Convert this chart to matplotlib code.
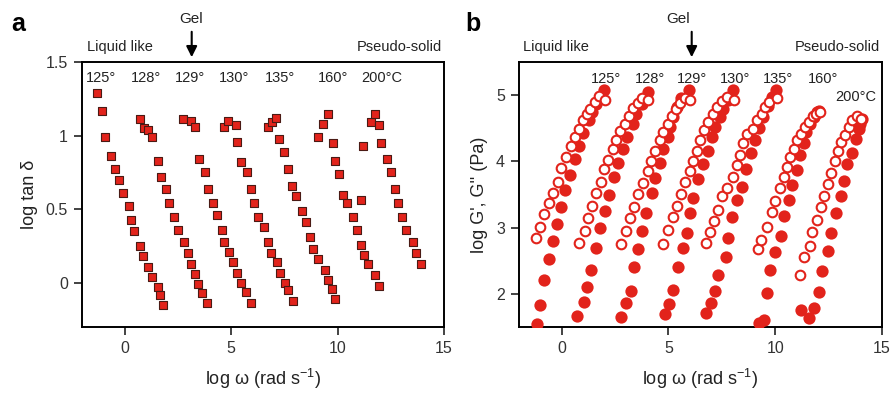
import matplotlib
matplotlib.use("Agg")
import matplotlib.pyplot as plt

plt.rcParams['font.family'] = ['Liberation Sans', 'DejaVu Sans']
plt.rcParams['mathtext.default'] = 'regular'

RED = '#e2231b'

temps = ['125°', '128°', '129°', '130°', '135°', '160°', '200°C']

# panel a: log tan delta vs log omega
tan_x = [
    [-1.28, -1.08, -0.92, -0.62, -0.47, -0.25, -0.09, 0.21, 0.28, 0.44, 0.74, 0.88, 1.10, 1.27, 1.55, 1.65, 1.82],
    [0.72, 0.89, 1.10, 1.27, 1.55, 1.72, 1.94, 2.10, 2.32, 2.49, 2.77, 2.98, 3.12, 3.29, 3.45, 3.65, 3.89],
    [2.74, 3.10, 3.31, 3.48, 3.76, 3.91, 4.14, 4.32, 4.56, 4.69, 4.92, 5.11, 5.30, 5.48, 5.70, 5.94],
    [4.67, 4.87, 5.23, 5.28, 5.47, 5.75, 5.92, 6.10, 6.28, 6.56, 6.72, 6.89, 7.16, 7.30, 7.52, 7.68, 7.91],
    [6.72, 6.93, 7.10, 7.24, 7.50, 7.68, 7.88, 8.07, 8.34, 8.54, 8.71, 8.87, 9.07, 9.43, 9.56, 9.73, 9.90],
    [9.06, 9.34, 9.54, 9.77, 9.87, 10.09, 10.24, 10.45, 10.71, 10.90, 11.08, 11.26, 11.45, 11.77, 11.94],
    [11.08, 11.18, 11.58, 11.77, 11.94, 12.02, 12.30, 12.49, 12.69, 12.85, 13.05, 13.22, 13.53, 13.69, 13.90],
]
tan_y = [
    [1.29, 1.17, 0.99, 0.86, 0.77, 0.70, 0.61, 0.52, 0.43, 0.35, 0.25, 0.18, 0.11, 0.04, -0.03, -0.08, -0.15],
    [1.11, 1.05, 1.04, 0.99, 0.83, 0.72, 0.64, 0.54, 0.45, 0.36, 0.28, 0.20, 0.13, 0.06, -0.01, -0.07, -0.14],
    [1.11, 1.10, 1.06, 0.84, 0.75, 0.64, 0.54, 0.46, 0.36, 0.28, 0.21, 0.14, 0.07, 0.00, -0.06, -0.14],
    [1.06, 1.10, 1.07, 0.96, 0.82, 0.75, 0.64, 0.54, 0.45, 0.38, 0.28, 0.20, 0.14, 0.07, 0.00, -0.05, -0.12],
    [1.06, 1.09, 1.12, 0.98, 0.89, 0.77, 0.66, 0.59, 0.49, 0.41, 0.31, 0.23, 0.16, 0.09, 0.02, -0.04, -0.11],
    [0.99, 1.08, 1.15, 0.95, 0.83, 0.74, 0.60, 0.54, 0.45, 0.36, 0.26, 0.19, 0.13, 0.05, -0.02],
    [0.56, 0.93, 1.09, 1.15, 1.07, 0.95, 0.84, 0.75, 0.64, 0.54, 0.45, 0.36, 0.28, 0.20, 0.13],
]

# panel b: G' (filled) and G'' (open)
gp_x = [
    [-1.16, -1.02, -0.81, -0.58, -0.41, -0.22, -0.03, 0.17, 0.39, 0.60, 0.82, 1.02, 1.26, 1.44, 1.60, 1.81, 1.98],
    [0.71, 1.03, 1.19, 1.38, 1.62, 1.80, 2.01, 2.20, 2.46, 2.62, 2.85, 3.06, 3.34, 3.50, 3.78, 3.89, 4.04],
    [2.79, 2.99, 3.26, 3.39, 3.55, 3.76, 3.97, 4.25, 4.36, 4.59, 4.75, 4.99, 5.09, 5.22, 5.38, 5.60, 5.97],
    [4.83, 5.02, 5.22, 5.46, 5.66, 5.85, 6.00, 6.16, 6.40, 6.63, 6.87, 7.02, 7.18, 7.42, 7.57, 7.81, 8.04],
    [6.76, 6.99, 7.18, 7.34, 7.68, 7.78, 7.99, 8.20, 8.43, 8.65, 8.85, 9.05, 9.25, 9.45, 9.65, 9.85, 10.02],
    [9.22, 9.48, 9.61, 9.77, 10.00, 10.27, 10.39, 10.63, 10.77, 11.02, 11.14, 11.33, 11.45, 11.65, 11.80, 11.96, 12.05],
    [11.23, 11.57, 11.80, 12.07, 12.20, 12.48, 12.59, 12.86, 13.06, 13.21, 13.37, 13.60, 13.76, 13.92, 13.97, 14.03, 14.08],
]
gp_y = [
    [1.55, 1.83, 2.21, 2.52, 2.80, 3.06, 3.31, 3.57, 3.80, 4.03, 4.23, 4.43, 4.62, 4.74, 4.86, 4.97, 5.07],
    [1.66, 1.87, 2.10, 2.36, 2.69, 2.99, 3.25, 3.49, 3.77, 3.97, 4.19, 4.37, 4.57, 4.72, 4.87, 4.95, 5.05],
    [1.65, 1.86, 2.05, 2.40, 2.67, 2.95, 3.22, 3.52, 3.75, 3.97, 4.19, 4.37, 4.52, 4.67, 4.82, 4.95, 5.07],
    [1.69, 1.84, 2.06, 2.40, 2.69, 2.92, 3.22, 3.45, 3.74, 3.96, 4.16, 4.37, 4.52, 4.67, 4.79, 4.92, 5.07],
    [1.71, 1.86, 2.05, 2.29, 2.56, 2.84, 3.16, 3.41, 3.62, 3.88, 4.12, 4.32, 4.50, 4.67, 4.84, 4.97, 5.07],
    [1.56, 1.61, 2.01, 2.36, 2.63, 2.87, 3.17, 3.41, 3.65, 3.87, 4.09, 4.27, 4.44, 4.57, 4.67, 4.74, 4.76],
    [1.76, 1.63, 1.78, 2.03, 2.34, 2.65, 2.92, 3.22, 3.48, 3.70, 3.96, 4.12, 4.34, 4.49, 4.56, 4.62, 4.64],
]
gpp_x = [
    [-1.19, -1.02, -0.81, -0.58, -0.41, -0.19, -0.03, 0.19, 0.42, 0.63, 0.83, 0.99, 1.18, 1.34, 1.54, 1.73, 2.03],
    [0.83, 1.07, 1.22, 1.43, 1.62, 1.82, 1.96, 2.16, 2.38, 2.56, 2.71, 2.95, 3.14, 3.35, 3.55, 3.78, 4.02],
    [2.79, 2.99, 3.18, 3.39, 3.58, 3.83, 4.05, 4.20, 4.36, 4.59, 4.75, 4.97, 5.15, 5.35, 5.55, 5.78, 6.02],
    [4.76, 4.99, 5.19, 5.38, 5.61, 5.77, 6.00, 6.16, 6.32, 6.47, 6.66, 6.87, 7.10, 7.29, 7.49, 7.73, 8.05],
    [6.76, 6.94, 7.12, 7.34, 7.52, 7.75, 8.04, 8.20, 8.36, 8.51, 8.67, 8.98, 9.14, 9.37, 9.53, 9.69, 10.08],
    [9.19, 9.35, 9.61, 9.85, 9.97, 10.24, 10.39, 10.55, 10.71, 10.86, 11.04, 11.20, 11.41, 11.58, 11.76, 11.92, 12.08],
    [11.18, 11.33, 11.62, 11.73, 11.96, 12.12, 12.30, 12.46, 12.59, 12.82, 12.95, 13.06, 13.25, 13.45, 13.60, 13.84, 14.00],
]
gpp_y = [
    [2.84, 3.01, 3.20, 3.37, 3.52, 3.69, 3.90, 4.06, 4.23, 4.37, 4.49, 4.62, 4.72, 4.79, 4.89, 4.98, 4.93],
    [2.77, 2.95, 3.14, 3.32, 3.53, 3.69, 3.88, 4.02, 4.18, 4.32, 4.46, 4.57, 4.69, 4.80, 4.88, 4.95, 4.93],
    [2.75, 2.95, 3.15, 3.31, 3.51, 3.67, 3.86, 4.01, 4.16, 4.32, 4.45, 4.57, 4.68, 4.79, 4.88, 4.95, 4.93],
    [2.75, 2.96, 3.16, 3.33, 3.51, 3.69, 3.86, 4.01, 4.16, 4.32, 4.47, 4.59, 4.72, 4.82, 4.91, 4.97, 4.93],
    [2.77, 2.93, 3.10, 3.27, 3.47, 3.60, 3.76, 3.94, 4.09, 4.27, 4.42, 4.49, 4.62, 4.72, 4.82, 4.90, 4.95],
    [2.67, 2.81, 3.01, 3.23, 3.40, 3.60, 3.76, 3.91, 4.06, 4.19, 4.32, 4.42, 4.52, 4.60, 4.68, 4.72, 4.74],
    [2.28, 2.55, 2.73, 2.93, 3.12, 3.31, 3.48, 3.66, 3.82, 4.01, 4.15, 4.29, 4.40, 4.52, 4.62, 4.69, 4.64],
]

# temperature label positions (left edge, data coords)
a_lab_x = [-1.80, 0.31, 2.38, 4.45, 6.61, 9.10, 11.10]
b_lab_x = [1.38, 3.45, 5.39, 7.40, 9.43, 11.54, 12.82]

fig = plt.figure(figsize=(8.91, 3.94), dpi=100)
ax1 = fig.add_axes([82/891, 1-327/394, 362/891, 265/394])
ax2 = fig.add_axes([519/891, 1-327/394, 363/891, 265/394])

for ax in (ax1, ax2):
    for s in ax.spines.values():
        s.set_linewidth(1.4)
    ax.tick_params(direction='out', length=6, width=1.2, labelsize=11.5, pad=4,
                   colors='#222222', labelcolor='#333333')
    ax.set_xlim(-2, 15)
    ax.set_xticks([0, 5, 10, 15])
    ax.set_xlabel('log ω (rad s$^{-1}$)', fontsize=13, labelpad=8, color='#222222')

# panel a
for xs, ys in zip(tan_x, tan_y):
    ax1.scatter(xs, ys, marker='s', s=36, facecolor=RED, edgecolor='#4a1a14',
                linewidths=0.8, zorder=3)
ax1.set_ylim(-0.3, 1.5)
ax1.set_yticks([0, 0.5, 1, 1.5])
ax1.set_yticklabels(['0', '0.5', '1', '1.5'])
ax1.set_ylabel('log tan δ', fontsize=13, labelpad=6, color='#222222')
for t, lx in zip(temps, a_lab_x):
    ax1.text(lx, 1.39, t, fontsize=10.5, va='center', ha='left', color='#222222')

# panel b
for i in range(len(temps)):
    ax2.scatter(gp_x[i], gp_y[i], s=78, color=RED, linewidths=0, zorder=3)
    ax2.scatter(gpp_x[i], gpp_y[i], s=48, facecolor='white', edgecolor=RED,
                linewidths=1.5, zorder=4)
ax2.set_ylim(1.5, 5.5)
ax2.set_yticks([2, 3, 4, 5])
ax2.set_ylabel("log G', G'' (Pa)", fontsize=13, labelpad=6, color='#222222')
for t, lx in zip(temps, b_lab_x):
    ly = 4.97 if t.endswith('C') else 5.25
    ax2.text(lx, ly, t, fontsize=10.5, va='center', ha='left', color='#222222')

# headings above the boxes
for ax, x0, x1 in ((ax1, 0.014, 0.994), (ax2, 0.011, 0.995)):
    ax.text(x0, 1.03, 'Liquid like', transform=ax.transAxes, fontsize=10.5,
            ha='left', va='bottom', color='#222222')
    ax.text(x1, 1.03, 'Pseudo-solid', transform=ax.transAxes, fontsize=10.5,
            ha='right', va='bottom', color='#222222')

for gx, ax_x in ((191.5, 191.7), (678, 691.7)):
    fig.text(gx/891, 1-19/394, 'Gel', fontsize=11, ha='center', va='center',
             color='#222222')
    fig.add_artist(matplotlib.patches.FancyArrowPatch(
        (ax_x/891, 1-29/394), (ax_x/891, 1-60/394), transform=fig.transFigure,
        arrowstyle='-|>', mutation_scale=16, color='black', lw=1.5))

fig.text(18/891, 1-24/394, 'a', fontsize=18, fontweight='bold', ha='center', va='center')
fig.text(473/891, 1-24/394, 'b', fontsize=18, fontweight='bold', ha='center', va='center')

fig.savefig('out.png', dpi=100)
